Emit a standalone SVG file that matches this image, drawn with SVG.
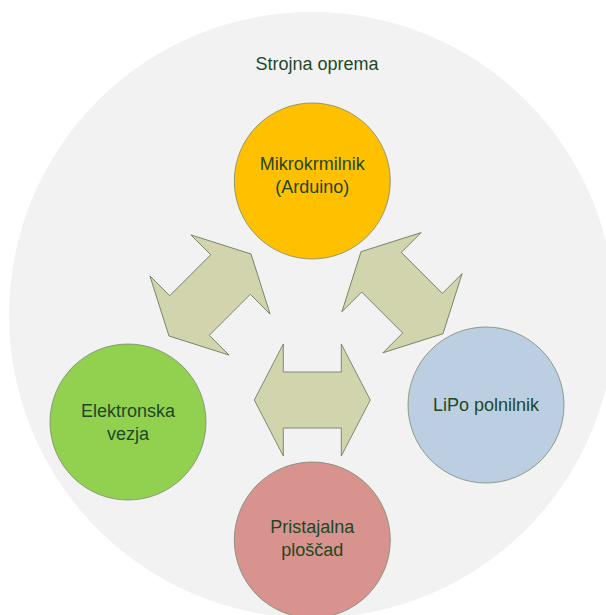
<svg xmlns="http://www.w3.org/2000/svg" width="606" height="615" viewBox="0 0 606 615">
<style>
.lbl{font-family:"Liberation Sans",Arial,sans-serif;font-size:18px;fill:#1d4826;text-anchor:middle}
.node{stroke:#7a8a6e;stroke-width:0.8}
.arr{fill:#d2d4ae;stroke:#6f8266;stroke-width:0.9;stroke-linejoin:miter}
</style>
<defs>
<path id="dbl" d="M -58,0 L -29,-56 L -29,-28 L 29,-28 L 29,-56 L 58,0 L 29,56 L 29,28 L -29,28 L -29,56 Z"/>
</defs>
<rect width="606" height="615" fill="#ffffff"/>
<g id="frame">
<circle cx="312" cy="315" r="303" fill="#f2f2f2"/>
<text class="lbl" x="317" y="70">Strojna oprema</text>
</g>
<g id="connectors">
<use href="#dbl" class="arr" transform="translate(210,295) rotate(-45)"/>
<use href="#dbl" class="arr" transform="translate(402,292.7) rotate(45)"/>
<use href="#dbl" class="arr" transform="translate(312.3,400)"/>
</g>
<g id="mikrokrmilnik">
<circle class="node" cx="312.3" cy="181" r="78" fill="#ffc000"/>
<text class="lbl" x="312.3" y="170">Mikrokrmilnik</text>
<text class="lbl" x="312.3" y="193">(Arduino)</text>
</g>
<g id="elektronska">
<circle class="node" cx="128" cy="422" r="78" fill="#92d050"/>
<text class="lbl" x="128" y="417">Elektronska</text>
<text class="lbl" x="128" y="440">vezja</text>
</g>
<g id="lipo">
<circle class="node" cx="486" cy="405" r="78" fill="#bccee1"/>
<text class="lbl" x="486" y="411">LiPo polnilnik</text>
</g>
<g id="pristajalna">
<circle class="node" cx="312.3" cy="540" r="78" fill="#d8938e"/>
<text class="lbl" x="312.3" y="533">Pristajalna</text>
<text class="lbl" x="312.3" y="556">ploščad</text>
</g>
</svg>
